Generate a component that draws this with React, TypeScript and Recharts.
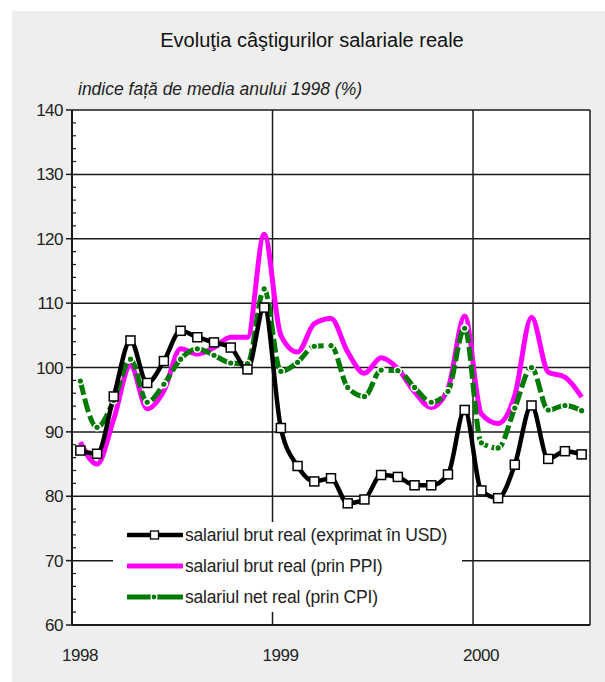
import { LineChart, Line, XAxis, YAxis, CartesianGrid, Legend } from 'recharts';

// luni: ian 1998 - iul 2000
const months = [
  'ian 98', 'feb 98', 'mar 98', 'apr 98', 'mai 98', 'iun 98', 'iul 98', 'aug 98', 'sep 98', 'oct 98', 'nov 98', 'dec 98',
  'ian 99', 'feb 99', 'mar 99', 'apr 99', 'mai 99', 'iun 99', 'iul 99', 'aug 99', 'sep 99', 'oct 99', 'nov 99', 'dec 99',
  'ian 00', 'feb 00', 'mar 00', 'apr 00', 'mai 00', 'iun 00', 'iul 00',
];

const brutUsd = [
  87.1, 86.6, 95.5, 104.2, 97.6, 101.0, 105.7, 104.7, 103.9, 103.1, 99.7, 109.3,
  90.6, 84.7, 82.3, 82.8, 78.9, 79.5, 83.3, 83.0, 81.7, 81.7, 83.4, 93.4,
  80.9, 79.7, 84.9, 94.1, 85.8, 87.0, 86.5,
];

const brutPpi = [
  88.4, 85.0, 92.0, 100.3, 93.6, 96.4, 102.9, 102.1, 103.1, 104.7, 104.7, 120.7,
  105.0, 102.4, 106.8, 107.6, 102.4, 99.1, 101.5, 99.8, 96.2, 93.8, 96.7, 108.0,
  92.8, 91.3, 95.7, 107.8, 99.3, 98.5, 95.4,
];

const netCpi = [
  97.9, 90.7, 94.9, 101.3, 94.6, 97.4, 101.3, 102.9, 101.9, 100.7, 100.6, 112.2,
  99.4, 100.8, 103.3, 103.4, 96.9, 95.5, 99.6, 99.5, 96.9, 94.6, 96.3, 106.1,
  88.3, 87.5, 93.7, 100.0, 93.4, 94.1, 93.3,
];

const yearTicks = [0, 12, 24];
const yearLabels = ['1998', '1999', '2000'];
const yMajor = [60, 70, 80, 90, 100, 110, 120, 130, 140];
const yTicks = Array.from({ length: 41 }, (_, i) => 60 + i * 2);

const data = months.map((m, i) => ({
  name: m,
  x: i + 0.5,
  brutUsd: brutUsd[i],
  brutPpi: brutPpi[i],
  netCpi: netCpi[i],
}));

const FONT = '"Liberation Sans", Arial, Helvetica, sans-serif';
const GREEN = '#007a00';
const MAGENTA = '#ff00ff';

function YTick({ x, y, payload }: any) {
  const v = payload.value;
  if (v % 10 === 0) {
    return (
      <g>
        <line x1={x - 6} x2={x} y1={y} y2={y} stroke="#1a1a1a" strokeWidth={1.5} />
        <text x={x - 9} y={y} dy="0.36em" textAnchor="end" fontSize={17} fill="#222" fontFamily={FONT} letterSpacing={-0.5}>
          {v}
        </text>
      </g>
    );
  }
  return <line x1={x} x2={x + 4} y1={y} y2={y} stroke="#1a1a1a" strokeWidth={1.2} />;
}

function XTick({ x, y, payload }: any) {
  const idx = yearTicks.indexOf(payload.value);
  return (
    <text x={x + 8} y={y + 36} textAnchor="middle" fontSize={17} fill="#222" fontFamily={FONT} letterSpacing={-0.5}>
      {yearLabels[idx]}
    </text>
  );
}

function SquareDot(props: any) {
  const { cx, cy, index } = props;
  return <rect key={`sq-${index}`} x={cx - 4.5} y={cy - 4.5} width={9} height={9} fill="#fff" stroke="#000" strokeWidth={1.5} />;
}

function GreenDot(props: any) {
  const { cx, cy, index } = props;
  return <circle key={`gd-${index}`} cx={cx} cy={cy} r={3.4} fill={GREEN} stroke="#fff" strokeWidth={1.6} />;
}

const legendItems = [
  { label: 'salariul brut real (exprimat în USD)', kind: 'usd' },
  { label: 'salariul brut real (prin PPI)', kind: 'ppi' },
  { label: 'salariul net real (prin CPI)', kind: 'cpi' },
];

function LegendBox() {
  return (
    <div style={{ position: 'relative', width: 349, height: 90 }}>
      {legendItems.map((it, i) => (
        <div key={it.kind} style={{ position: 'absolute', left: 14, top: 2 + i * 31, height: 22, display: 'flex', alignItems: 'center' }}>
          <svg width={56} height={14} style={{ display: 'block' }}>
            {it.kind === 'usd' && (
              <g>
                <line x1={1} x2={55} y1={7} y2={7} stroke="#000" strokeWidth={4.5} strokeLinecap="round" />
                <rect x={23.5} y={3} width={8} height={8} fill="#fff" stroke="#000" strokeWidth={1.3} />
              </g>
            )}
            {it.kind === 'ppi' && <line x1={1} x2={55} y1={7} y2={7} stroke={MAGENTA} strokeWidth={5} strokeLinecap="round" />}
            {it.kind === 'cpi' && (
              <g>
                <line x1={1} x2={23} y1={7} y2={7} stroke={GREEN} strokeWidth={5} strokeLinecap="round" />
                <line x1={31} x2={55} y1={7} y2={7} stroke={GREEN} strokeWidth={5} strokeLinecap="round" />
                <circle cx={27} cy={7} r={3} fill={GREEN} stroke="#fff" strokeWidth={1.2} />
              </g>
            )}
          </svg>
          <span style={{ fontSize: 17.5, color: '#222', fontFamily: FONT, marginLeft: 2, whiteSpace: 'nowrap', letterSpacing: -0.2 }}>{it.label}</span>
        </div>
      ))}
    </div>
  );
}

export default function App() {
  return (
    <div style={{ position: 'absolute', left: 0, top: 0, width: 605, height: 682, background: '#fff', fontFamily: FONT }}>
      <div style={{ position: 'absolute', left: 12, top: 11, width: 593, height: 671, background: '#eeeeee' }} />
      <div style={{ position: 'absolute', left: 12, top: 29, width: 600, textAlign: 'center', fontSize: 20, color: '#111' }}>
        Evoluţia câştigurilor salariale reale
      </div>
      <div style={{ position: 'absolute', left: 78, top: 79, fontSize: 17.5, fontStyle: 'italic', color: '#222' }}>
        indice față de media anului 1998 (%)
      </div>
      <div style={{ position: 'absolute', left: 0, top: 0 }}>
        <LineChart width={605} height={682} data={data} margin={{ top: 110, right: 15, bottom: 0, left: 0 }}>
          <CartesianGrid
            fill="#fff"
            stroke="#1a1a1a"
            strokeWidth={1.5}
            horizontalValues={yMajor}
            verticalValues={[0, 12, 24, 31]}
          />
          <XAxis
            dataKey="x"
            type="number"
            domain={[0, 31]}
            ticks={yearTicks}
            interval={0}
            height={57}
            tickSize={0}
            tickMargin={0}
            tickLine={false}
            axisLine={{ stroke: '#1a1a1a', strokeWidth: 2 }}
            tick={<XTick />}
          />
          <YAxis
            type="number"
            domain={[60, 140]}
            ticks={yTicks}
            interval={0}
            width={72}
            tickSize={0}
            tickMargin={0}
            tickLine={false}
            axisLine={{ stroke: '#1a1a1a', strokeWidth: 2 }}
            tick={<YTick />}
          />
          <Legend
            layout="vertical"
            align="center"
            verticalAlign="middle"
            content={() => <LegendBox />}
            wrapperStyle={{ left: 113, top: 522, width: 349, height: 90, background: '#fff' }}
          />
          <Line
            type="monotone"
            dataKey="brutPpi"
            stroke={MAGENTA}
            strokeWidth={5}
            dot={false}
            isAnimationActive={false}
          />
          <Line
            type="monotone"
            dataKey="netCpi"
            stroke={GREEN}
            strokeWidth={5}
            strokeDasharray="14 4"
            dot={GreenDot}
            isAnimationActive={false}
          />
          <Line
            type="monotone"
            dataKey="brutUsd"
            stroke="#000"
            strokeWidth={4.5}
            dot={SquareDot}
            isAnimationActive={false}
          />
        </LineChart>
      </div>
    </div>
  );
}
